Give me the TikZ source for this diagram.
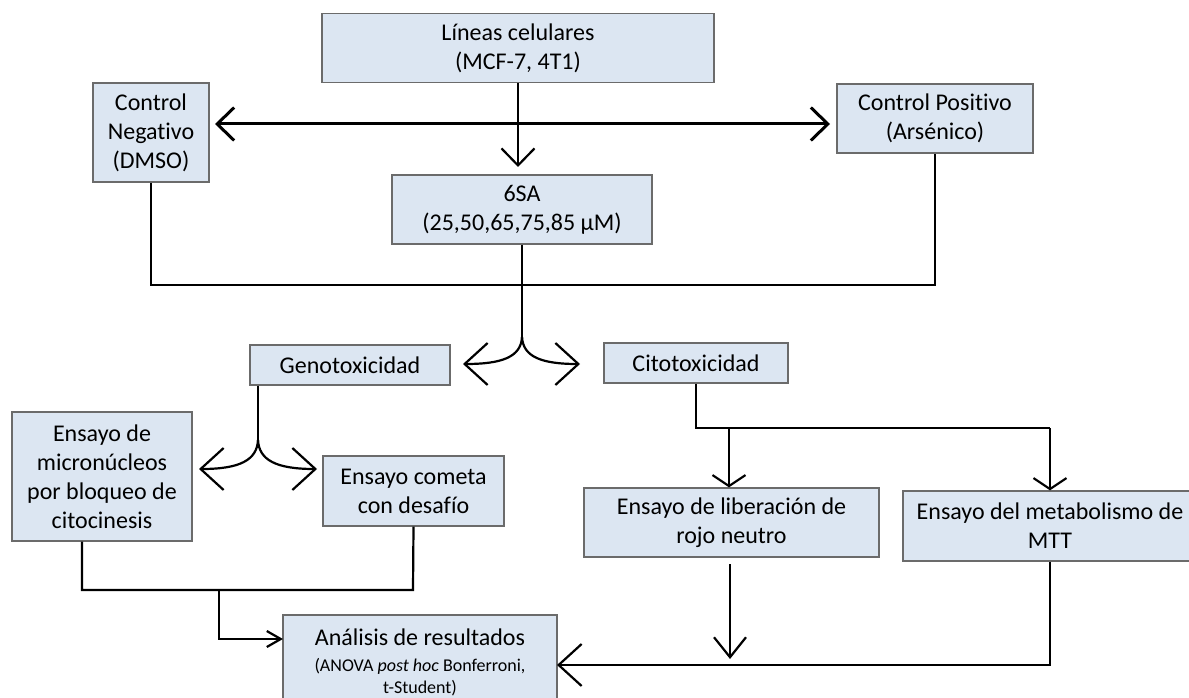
\documentclass[tikz,border=0pt]{standalone}
\usepackage{fontspec}
\setmainfont{Carlito}[Ligatures={NoCommon}]
\usetikzlibrary{arrows.meta,calc}
\definecolor{boxfill}{HTML}{DCE6F2}
\definecolor{boxline}{HTML}{6B6B6B}
\tikzset{
  box/.style={draw=boxline, fill=boxfill, line width=1.2pt, align=center, inner sep=0pt,
              font=\fontsize{24}{29}\selectfont},
  ln/.style={line width=2.2pt, line join=miter, black},
  tipA/.style={-{Straight Barb[length=17pt,width=33pt]}},
  tipS/.style={-{Straight Barb[length=23pt,width=42pt]}},
  tipF/.style={-{Straight Barb[length=11pt,width=33pt]}},
  tipT/.style={-{Straight Barb[length=14pt,width=16pt]}},
  tipB/.style={-{Straight Barb[length=20pt,width=32pt]}},
}
\begin{document}
\begin{tikzpicture}[x=1pt,y=-1pt]
\useasboundingbox (0,0) rectangle (1189,698);
\fill[white] (0,0) rectangle (1189,698);
\clip (0,0) rectangle (1189,698);

% nodes
\node[box, minimum width=392pt, minimum height=69pt] (lin) at (518,48) {Líneas celulares\\(MCF-7, 4T1)};
\node[box, minimum width=116pt, minimum height=99pt] (cneg) at (151,132.5) {Control\\Negativo\\(DMSO)};
\node[box, minimum width=196pt, minimum height=69pt] (cpos) at (935,118.5) {Control Positivo\\(Arsénico)};
\node[box, minimum width=260pt, minimum height=69pt] (sa) at (522,209.5) {6SA\\(25,50,65,75,85 µM)};
\node[box, minimum width=200pt, minimum height=40pt] (geno) at (350,365) {Genotoxicidad};
\node[box, minimum width=184pt, minimum height=40pt] (cito) at (696,363) {Citotoxicidad};
\node[box, minimum width=180pt, minimum height=129pt] (micro) at (102,476.5) {Ensayo de\\micronúcleos\\por bloqueo de\\citocinesis};
\node[box, minimum width=181pt, minimum height=70pt] (comet) at (413.5,491) {Ensayo cometa\\con desafío};
\node[box, minimum width=295pt, minimum height=69pt] (rojo) at (731.5,522.5) {Ensayo de liberación de\\rojo neutro};
\node[box, minimum width=294pt, minimum height=70pt] (mtt) at (1050,526) {Ensayo del metabolismo de\\MTT};
\node[box, minimum width=274pt, minimum height=95pt] (anal) at (420,662.5)
  {Análisis de resultados\\[-3pt]{\fontsize{18}{22}\selectfont (ANOVA \textit{post hoc} Bonferroni,}\\[-7pt]{\fontsize{18}{22}\selectfont t-Student)}};

% coordinates
\coordinate (tl) at (215,124);
\coordinate (tr) at (830,124);
\coordinate (satip) at (518,167);
\coordinate (bl) at (151,285);
\coordinate (br) at (935,285);
\coordinate (split1) at (522,337);
\coordinate (gl1) at (463,364);
\coordinate (gr1) at (580,364);
\coordinate (split2) at (258,440);
\coordinate (gl2) at (199,469);
\coordinate (gr2) at (317,469);
\coordinate (mj) at (82,590);
\coordinate (cm) at (413,590);
\coordinate (jj) at (219,590);
\coordinate (jd) at (219,639);
\coordinate (al) at (283,639);
\coordinate (cj) at (696,428);
\coordinate (cr) at (1050,428);
\coordinate (rb) at (729,428);
\coordinate (rtop) at (730,564);
\coordinate (rtip) at (730,659);
\coordinate (mb) at (1050,665);
\coordinate (ar) at (557,665);

% top connectors
\draw[ln, line width=3pt, {Straight Barb[length=17pt,width=33pt]}-{Straight Barb[length=17pt,width=33pt]}] (tl) -- (tr);
\draw[ln, tipA] (lin.south) -- (satip);
\draw[ln] (cneg.south) -- (bl) -- (br) -- (cpos.south);

% split 1
\draw[ln] (sa.south) -- (split1);
\draw[ln, tipS] (split1) .. controls (521,357) and (502,364) .. (gl1);
\draw[ln, tipS] (split1) .. controls (523,357) and (542,364) .. (gr1);

% genotoxicidad split
\draw[ln] (geno.south -| split2) -- (split2);
\draw[ln, tipS] (split2) .. controls (257,460) and (240,469) .. (gl2);
\draw[ln, tipS] (split2) .. controls (259,460) and (276,469) .. (gr2);

% genotox assays to analysis
\draw[ln] (micro.south -| mj) -- (mj) -- (cm) -- (comet.south);
\draw[ln, tipT] (jj) -- (jd) -- (al);

% citotoxicidad
\draw[ln] (cito.south) -- (cj) -- (cr);
\draw[ln, tipF] (cr) -- (mtt.north);
\draw[ln, tipF] (rb) -- (rb |- rojo.north);
\draw[ln, tipB] (rtop) -- (rtip);
\draw[ln, tipS] (mtt.south) -- (mb) -- (ar);
\end{tikzpicture}
\end{document}
